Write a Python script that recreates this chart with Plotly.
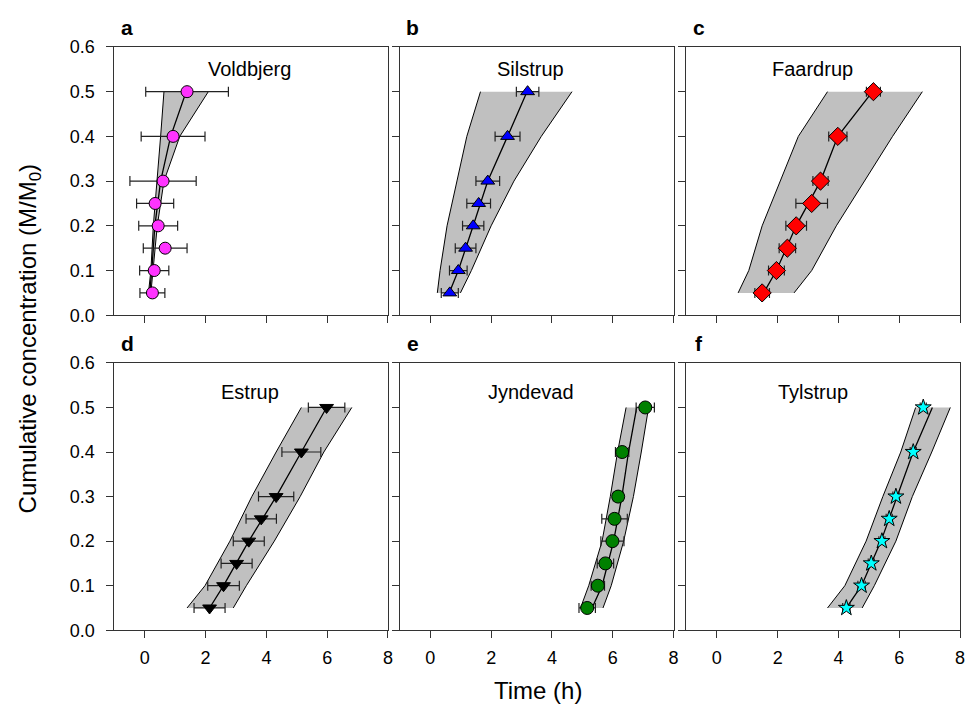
import plotly.graph_objects as go

# ---------------- data ----------------
levels = [0.05, 0.10, 0.15, 0.20, 0.25, 0.30, 0.40, 0.50]
band_levels = [0.05, 0.10, 0.20, 0.30, 0.40, 0.50]

sites = ["Voldbjerg", "Silstrup", "Faardrup", "Estrup", "Jyndevad", "Tylstrup"]
letters = ["a", "b", "c", "d", "e", "f"]

# observed times (h) at each cumulative level
voldbjerg_t = [0.25, 0.31, 0.67, 0.44, 0.34, 0.60, 0.93, 1.39]
silstrup_t = [0.64, 0.92, 1.16, 1.41, 1.59, 1.89, 2.54, 3.20]
faardrup_t = [1.49, 1.96, 2.32, 2.61, 3.12, 3.41, 3.98, 5.15]
estrup_t = [2.13, 2.59, 3.02, 3.42, 3.83, 4.32, 5.15, 5.98]
jyndevad_t = [5.16, 5.51, 5.76, 5.99, 6.06, 6.18, 6.31, 7.07]
tylstrup_t = [4.26, 4.76, 5.08, 5.43, 5.67, 5.89, 6.46, 6.79]

# standard deviations (h)
voldbjerg_sd = [0.41, 0.48, 0.72, 0.64, 0.61, 1.09, 1.05, 1.36]
silstrup_sd = [0.28, 0.29, 0.34, 0.35, 0.39, 0.39, 0.41, 0.37]
faardrup_sd = [0.24, 0.26, 0.27, 0.34, 0.52, 0.25, 0.30, 0.23]
estrup_sd = [0.51, 0.52, 0.51, 0.51, 0.50, 0.58, 0.64, 0.60]
jyndevad_sd = [0.27, 0.22, 0.27, 0.38, 0.42, 0.16, 0.22, 0.30]
tylstrup_sd = [0.12, 0.12, 0.10, 0.10, 0.10, 0.10, 0.10, 0.10]

# model fit (h) at band_levels
voldbjerg_fit = [0.16, 0.23, 0.33, 0.52, 0.85, 1.36]
silstrup_fit = [0.62, 0.92, 1.41, 1.89, 2.54, 3.18]
faardrup_fit = [1.54, 1.96, 2.61, 3.41, 3.98, 5.12]
estrup_fit = [2.13, 2.59, 3.42, 4.32, 5.15, 5.98]
jyndevad_fit = [5.32, 5.65, 6.03, 6.30, 6.52, 6.79]
tylstrup_fit = [4.26, 4.76, 5.40, 5.92, 6.46, 7.09]

# uncertainty band lower / upper (h) at band_levels
voldbjerg_lo = [0.12, 0.20, 0.28, 0.41, 0.52, 0.63]
voldbjerg_hi = [0.20, 0.27, 0.41, 0.63, 1.15, 2.09]
silstrup_lo = [0.23, 0.32, 0.55, 0.88, 1.20, 1.65]
silstrup_hi = [0.99, 1.35, 2.00, 2.75, 3.65, 4.66]
faardrup_lo = [0.70, 1.05, 1.49, 2.09, 2.68, 3.64]
faardrup_hi = [2.54, 3.12, 3.93, 4.86, 5.78, 6.76]
estrup_lo = [1.39, 1.98, 2.80, 3.52, 4.32, 5.15]
estrup_hi = [2.91, 3.34, 4.26, 5.11, 5.89, 6.81]
jyndevad_lo = [4.94, 5.21, 5.65, 5.92, 6.16, 6.44]
jyndevad_hi = [5.68, 5.95, 6.36, 6.68, 6.94, 7.18]
tylstrup_lo = [3.64, 4.21, 4.91, 5.46, 6.05, 6.54]
tylstrup_hi = [4.78, 5.18, 5.89, 6.43, 7.07, 7.68]

obs = [voldbjerg_t, silstrup_t, faardrup_t, estrup_t, jyndevad_t, tylstrup_t]
sds = [voldbjerg_sd, silstrup_sd, faardrup_sd, estrup_sd, jyndevad_sd, tylstrup_sd]
fits = [voldbjerg_fit, silstrup_fit, faardrup_fit, estrup_fit, jyndevad_fit, tylstrup_fit]
los = [voldbjerg_lo, silstrup_lo, faardrup_lo, estrup_lo, jyndevad_lo, tylstrup_lo]
his = [voldbjerg_hi, silstrup_hi, faardrup_hi, estrup_hi, jyndevad_hi, tylstrup_hi]

x_ticks = [0, 2, 4, 6, 8]
y_ticks = [0.0, 0.1, 0.2, 0.3, 0.4, 0.5, 0.6]

# ---------------- style ----------------
colors = ["#ff33ff", "#0000ff", "#ff0000", "#000000", "#008000", "#00ffff"]
symbols = ["circle", "triangle-up", "diamond", "triangle-down", "circle", "star"]
sizes = [12, 12, 14, 12, 13, 12]
label_x = [3.45, 3.3, 3.15, 3.45, 3.3, 3.15]
label_y = [0.55, 0.55, 0.55, 0.535, 0.535, 0.535]

W, H = 973, 719
col_px = [(115, 390), (402, 677), (690, 965)]
row_px = [(38, 314), (363, 638)]

FONT = "Liberation Sans, Arial, sans-serif"

fig = go.Figure()
layout = dict(
    width=W, height=H,
    margin=dict(l=0, r=0, t=0, b=0),
    paper_bgcolor="white", plot_bgcolor="white",
    showlegend=False,
    font=dict(family=FONT, size=18, color="black"),
)
annotations = []

for i in range(6):
    r, c = divmod(i, 3)
    n = i + 1
    xa = "x" if n == 1 else f"x{n}"
    ya = "y" if n == 1 else f"y{n}"
    x0, x1 = col_px[c]
    y0, y1 = row_px[r]

    layout["xaxis" if n == 1 else f"xaxis{n}"] = dict(
        domain=[x0 / W, x1 / W], range=[-1, 8], anchor=ya,
        tickvals=x_ticks, ticks="outside", ticklen=7, tickcolor="#333",
        showticklabels=(r == 1), tickfont=dict(size=18),
        ticklabelstandoff=4,
        showline=True, linecolor="#333", linewidth=1.3, mirror=True,
        showgrid=False, zeroline=False,
    )
    layout["yaxis" if n == 1 else f"yaxis{n}"] = dict(
        domain=[1 - y1 / H, 1 - y0 / H], range=[0, 0.6], anchor=xa,
        tickvals=y_ticks, tickformat=".1f", ticks="outside", ticklen=7,
        tickcolor="#333", showticklabels=(c == 0), tickfont=dict(size=18),
        ticklabelstandoff=8,
        showline=True, linecolor="#333", linewidth=1.3, mirror=True,
        showgrid=False, zeroline=False,
    )

    # band polygon
    fig.add_trace(go.Scatter(
        x=los[i] + his[i][::-1], y=band_levels + band_levels[::-1],
        fill="toself", fillcolor="#c0c0c0", mode="none",
        xaxis=xa, yaxis=ya, hoverinfo="skip"))
    # band edges
    for edge in (los[i], his[i]):
        fig.add_trace(go.Scatter(
            x=edge, y=band_levels, mode="lines",
            line=dict(color="black", width=1), xaxis=xa, yaxis=ya))
    # fit line
    fig.add_trace(go.Scatter(
        x=fits[i], y=band_levels, mode="lines",
        line=dict(color="black", width=1.3), xaxis=xa, yaxis=ya))
    # observations
    fig.add_trace(go.Scatter(
        x=obs[i], y=levels, mode="markers",
        marker=dict(symbol=symbols[i], size=sizes[i], color=colors[i],
                    line=dict(color="black", width=1)),
        error_x=dict(type="data", array=sds[i], color="#222",
                     thickness=1.2, width=5),
        xaxis=xa, yaxis=ya))

    # site name
    annotations.append(dict(
        x=label_x[i], y=label_y[i], xref=xa, yref=ya, text=sites[i],
        showarrow=False, font=dict(size=20, family=FONT),
        xanchor="center", yanchor="middle"))
    # panel letter
    annotations.append(dict(
        x=(x0 + 13) / W, y=1 - (y0 - 20) / H, xref="paper", yref="paper",
        text=f"<b>{letters[i]}</b>", showarrow=False,
        font=dict(size=21, family=FONT), xanchor="center", yanchor="middle"))

annotations.append(dict(
    x=30 / W, y=1 - 338 / H, xref="paper", yref="paper",
    text="Cumulative concentration (M/M<sub>0</sub>)", showarrow=False,
    textangle=-90, font=dict(size=24, family=FONT),
    xanchor="center", yanchor="middle"))
annotations.append(dict(
    x=541 / W, y=1 - 700 / H, xref="paper", yref="paper",
    text="Time (h)", showarrow=False, font=dict(size=24, family=FONT),
    xanchor="center", yanchor="middle"))

layout["annotations"] = annotations
fig.update_layout(**layout)
fig.write_html(
    "out.html",
    config={"displayModeBar": False},
    post_script="document.body.style.margin='0px';"
                "document.body.style.overflow='hidden';",
)
